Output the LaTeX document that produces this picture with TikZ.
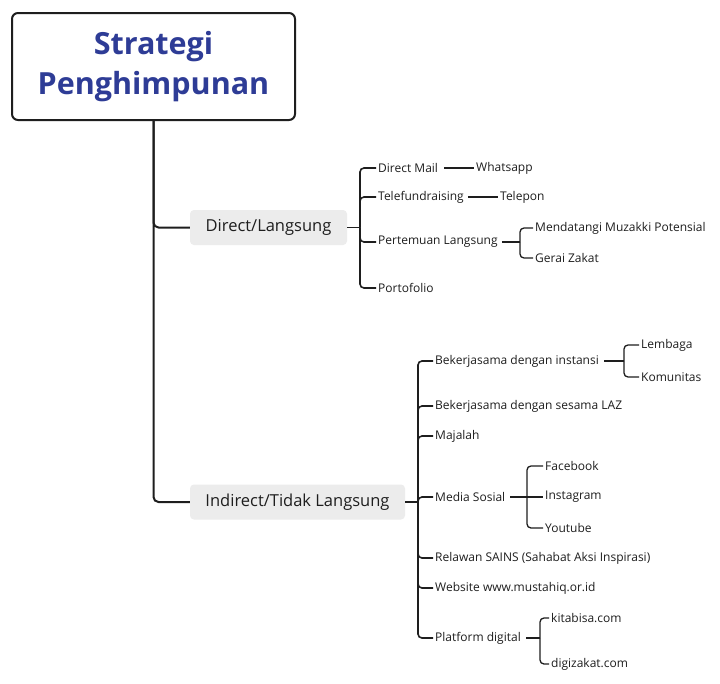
\documentclass[tikz,border=0pt]{standalone}
\usepackage{fontspec}
\setmainfont{Open Sans}
\definecolor{titleblue}{HTML}{2E3C96}
\definecolor{ink}{HTML}{1E1E1E}
\definecolor{boxgray}{HTML}{ECECEC}
\begin{document}
\begin{tikzpicture}[x=1pt,y=-1pt,
  trunk/.style={draw=ink, line width=2pt, rounded corners=5pt},
  brk/.style={draw=ink, line width=1.6pt, rounded corners=4pt},
  sbrk/.style={draw=ink, line width=1.3pt, rounded corners=4pt},
  leaf/.style={font=\fontsize{12}{14}\selectfont, anchor=west, inner sep=2pt, text=ink},
  midbox/.style={fill=boxgray, rounded corners=4pt, font=\fontsize{16.5}{19}\selectfont, minimum height=35pt, text=ink, inner sep=0pt},
  rootbox/.style={draw=ink, line width=2pt, rounded corners=6pt, fill=white, minimum width=283pt, minimum height=107pt, align=center, text=titleblue, font=\fontsize{30.5}{40}\selectfont\bfseries}
]
\useasboundingbox (0,0) rectangle (720,683);
\fill[white] (0,0) rectangle (720,683);

% root
\node[rootbox] (root) at (153.5,66.5) {Strategi\\Penghimpunan};

% level 1
\node[midbox, minimum width=157pt] (dl) at (268.5,227.5) {Direct/Langsung};
\node[midbox, minimum width=215pt] (il) at (297.5,502) {Indirect/Tidak Langsung};

\draw[trunk] (root.south) |- (dl.west);
\draw[trunk] (root.south) |- (il.west);

% Direct children
\coordinate (b1) at (360,227.5);
\node[leaf] (dm) at (376,168) {Direct Mail};
\node[leaf] (tf) at (376,197) {Telefundraising};
\node[leaf] (pl) at (376,242) {Pertemuan Langsung};
\node[leaf] (pf) at (376,288) {Portofolio};
\draw[brk] (dl.east) -- (b1);
\draw[brk] (b1) |- (dm.west);
\draw[brk] (b1) |- (tf.west);
\draw[brk] (b1) |- (pl.west);
\draw[brk] (b1) |- (pf.west);

\node[leaf] (wa) at (474,168) {Whatsapp};
\node[leaf] (tp) at (498,197) {Telepon};
\draw[sbrk, shorten <=4pt] (dm.east) -- (wa.west);
\draw[sbrk, shorten <=2pt] (tf.east) -- (tp.west);

\coordinate (b2) at (520,242);
\node[leaf] (mz) at (533,228) {Mendatangi Muzakki Potensial};
\node[leaf] (gz) at (533,258) {Gerai Zakat};
\draw[sbrk, shorten <=2pt] (pl.east) -- (b2);
\draw[sbrk] (b2) |- (mz.west);
\draw[sbrk] (b2) |- (gz.west);

% Indirect children
\coordinate (b3) at (418,502);
\node[leaf] (bi) at (433,361) {Bekerjasama dengan instansi};
\node[leaf] (bs) at (433,406) {Bekerjasama dengan sesama LAZ};
\node[leaf] (mj) at (433,436) {Majalah};
\node[leaf] (ms) at (433,497) {Media Sosial};
\node[leaf] (rs) at (433,558) {Relawan SAINS (Sahabat Aksi Inspirasi)};
\node[leaf] (wb) at (433,588) {Website www.mustahiq.or.id};
\node[leaf] (pd) at (433,638) {Platform digital};
\draw[brk] (il.east) -- (b3);
\draw[brk] (b3) |- (bi.west);
\draw[brk] (b3) |- (bs.west);
\draw[brk] (b3) |- (mj.west);
\draw[brk] (b3) |- (ms.west);
\draw[brk] (b3) |- (rs.west);
\draw[brk] (b3) |- (wb.west);
\draw[brk] (b3) |- (pd.west);

\coordinate (b4) at (624,361);
\node[leaf] (lb) at (639,345) {Lembaga};
\node[leaf] (km) at (639,377) {Komunitas};
\draw[sbrk, shorten <=3pt] (bi.east) -- (b4);
\draw[sbrk] (b4) |- (lb.west);
\draw[sbrk] (b4) |- (km.west);

\coordinate (b5) at (527,497);
\node[leaf] (fb) at (543,466) {Facebook};
\node[leaf] (ig) at (543,497) {Instagram};
\node[leaf] (yt) at (543,528) {Youtube};
\draw[sbrk, shorten <=3pt] (ms.east) -- (ig.west);
\draw[sbrk] (b5) |- (fb.west);
\draw[sbrk] (b5) |- (yt.west);

\coordinate (b6) at (540,638);
\node[leaf] (kb) at (549,618) {kitabisa.com};
\node[leaf] (dz) at (549,664) {digizakat.com};
\draw[sbrk, shorten <=3pt] (pd.east) -- (b6);
\draw[sbrk] (b6) |- (kb.west);
\draw[sbrk] (b6) |- (dz.west);
\end{tikzpicture}
\end{document}
